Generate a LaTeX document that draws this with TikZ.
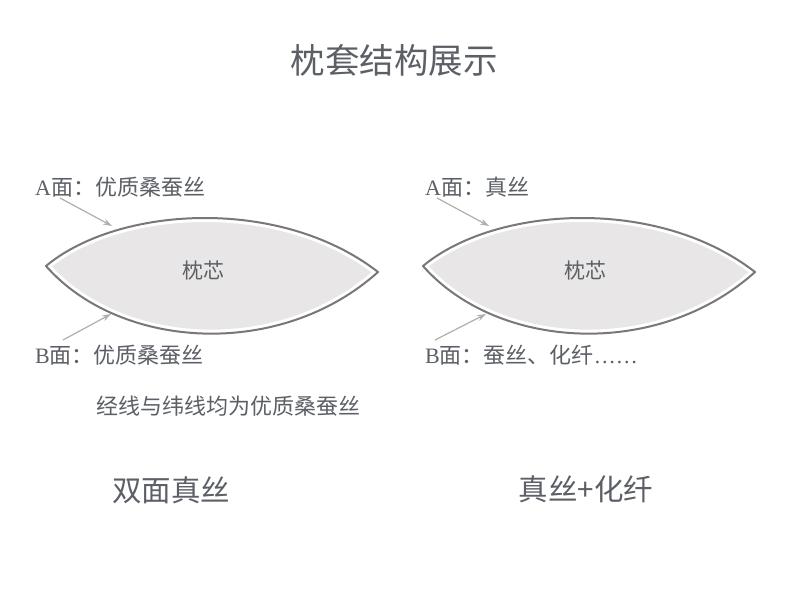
\documentclass[tikz,border=0pt]{standalone}
\usepackage{fontspec}
\setmainfont{Noto Sans CJK SC}
\newfontfamily\latinserif{Liberation Serif}
\usetikzlibrary{arrows.meta}
\definecolor{txt}{RGB}{92,96,102}
\definecolor{lensline}{RGB}{120,120,122}
\definecolor{lensfill}{RGB}{232,230,230}
\definecolor{arrowgray}{RGB}{175,175,175}
\tikzset{
  label/.style={inner sep=0pt, text=txt, font=\fontsize{22}{25}\selectfont, anchor=west},
  core/.style={inner sep=0pt, text=txt, font=\fontsize{21}{24}\selectfont},
  caption/.style={inner sep=0pt, text=txt, font=\fontsize{29.5}{32}\selectfont},
  pointer/.style={draw=arrowgray, line width=1.2pt, -{Stealth[length=9pt,width=6pt,inset=3pt]}},
}
\newcommand{\lens}[1]{%
  \begin{scope}[xshift=#1]
    \path[fill=lensfill] (46,266) .. controls (118,206) and (280,196) .. (378,272)
         .. controls (280,360) and (120,350) .. (46,266) -- cycle;
    \draw[white, line width=8pt, line join=round] (46,266) .. controls (118,206) and (280,196) .. (378,272)
         .. controls (280,360) and (120,350) .. (46,266) -- cycle;
    \draw[lensline, line width=2pt, line join=round] (46,266) .. controls (118,206) and (280,196) .. (378,272)
         .. controls (280,360) and (120,350) .. (46,266) -- cycle;
  \end{scope}}
\begin{document}
\begin{tikzpicture}[x=1pt,y=-1pt]
\useasboundingbox[fill=white] (0,0) rectangle (790,590);

\node[inner sep=0pt, text=txt, font=\fontsize{34.5}{38}\selectfont] (title) at (394,60) {枕套结构展示};

% left pillow
\lens{0}
\node[core] (coreL) at (203,271) {枕芯};
\node[label] (aL) at (35,187) {{\latinserif A}面：优质桑蚕丝};
\node[label] (bL) at (35,355) {{\latinserif B}面：优质桑蚕丝};
\coordinate (aLs) at (60,198);
\coordinate (aLt) at (112,226);
\coordinate (bLs) at (63,340);
\coordinate (bLt) at (111,314);
\draw[pointer] (aLs) -- (aLt);
\draw[pointer] (bLs) -- (bLt);
\node[label] (note) at (96,406) {经线与纬线均为优质桑蚕丝};
\node[caption] (capL) at (171,490) {双面真丝};

% right pillow
\lens{377}
\node[core] (coreR) at (585,271) {枕芯};
\node[label] (aR) at (425,187) {{\latinserif A}面：真丝};
\node[label] (bR) at (425,355) {{\latinserif B}面：蚕丝、化纤{\latinserif ……}};
\coordinate (aRs) at (437,198);
\coordinate (aRt) at (489,226);
\coordinate (bRs) at (435,340);
\coordinate (bRt) at (486,314);
\draw[pointer] (aRs) -- (aRt);
\draw[pointer] (bRs) -- (bRt);
\node[caption] (capR) at (586,489) {真丝+化纤};
\end{tikzpicture}
\end{document}
